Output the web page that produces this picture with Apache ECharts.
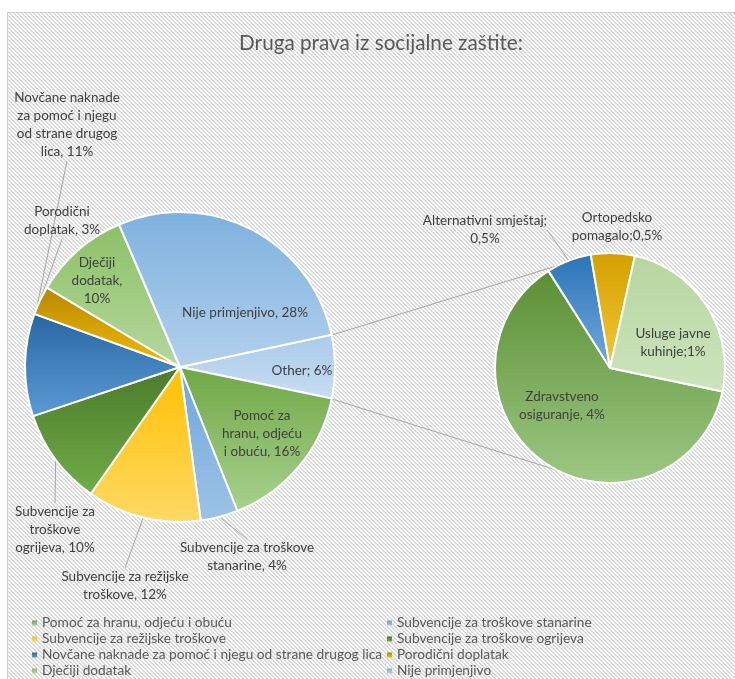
<!DOCTYPE html>
<html>
<head>
<meta charset="utf-8">
<script src="https://cdn.jsdelivr.net/npm/echarts@6/dist/echarts.min.js"></script>
<style>
  html, body { margin: 0; padding: 0; background: #fff; }
  #main { position: absolute; left: 0; top: 0; width: 735px; height: 679px; }
</style>
</head>
<body>
<div id="main"></div>
<script>
// glavni krug (pie of pie) - redoslijed u smjeru kazaljke od "Other"
var mainNames = ['Other', 'Pomoć za hranu, odjeću i obuću', 'Subvencije za troškove stanarine',
  'Subvencije za režijske troškove', 'Subvencije za troškove ogrijeva',
  'Novčane naknade za pomoć i njegu od strane drugog lica', 'Porodični doplatak',
  'Dječiji dodatak', 'Nije primjenjivo'];
var mainValues = [6.6, 15.7, 3.9, 11.9, 10.1, 10.7, 3.0, 10.0, 28.1];
var mainLabels = ['Other; 6%', 'Pomoć za\nhranu, odjeću\ni obuću, 16%', 'Subvencije za troškove\nstanarine, 4%',
  'Subvencije za režijske\ntroškove, 12%', 'Subvencije za\ntroškove\nogrijeva, 10%',
  'Novčane naknade\nza pomoć i njegu\nod strane drugog\nlica, 11%', 'Porodični\ndoplatak, 3%',
  'Dječiji\ndodatak,\n10%', 'Nije primjenjivo, 28%'];

// drugi krug (razlaganje "Other")
var subNames = ['Zdravstveno osiguranje', 'Alternativni smještaj', 'Ortopedsko pomagalo', 'Usluge javne kuhinje'];
var subValues = [3.77, 0.38, 0.37, 1.49];
var subLabels = ['Zdravstveno\nosiguranje, 4%', 'Alternativni smještaj;\n0,5%', 'Ortopedsko\npomagalo;0,5%', 'Usluge javne\nkuhinje;1%'];

var legendLeft = ['Pomoć za hranu, odjeću i obuću', 'Subvencije za režijske troškove',
  'Novčane naknade za pomoć i njegu od strane drugog lica', 'Dječiji dodatak'];
var legendRight = ['Subvencije za troškove stanarine', 'Subvencije za troškove ogrijeva',
  'Porodični doplatak', 'Nije primjenjivo'];

// šrafura pozadine
var hatch = document.createElement('canvas');
hatch.width = 4; hatch.height = 4;
(function () {
  var ctx = hatch.getContext('2d');
  ctx.fillStyle = '#fdfdfd';
  ctx.fillRect(0, 0, 4, 4);
  ctx.fillStyle = '#dadada';
  for (var y = 0; y < 4; y++) {
    for (var x = 0; x < 4; x++) {
      var k = ((x - y) % 4 + 4) % 4;
      if (k < 2) ctx.fillRect(x, y, 1, 1);
    }
  }
})();

function grad(a, b) {
  return { type: 'linear', x: 0, y: 0, x2: 0, y2: 1, colorStops: [{ offset: 0, color: a }, { offset: 1, color: b }] };
}
var mainColors = [
  grad('#a9cbea', '#c9ddf1'), grad('#6fa845', '#a9d18e'), grad('#6ea6dc', '#9dc3e6'),
  grad('#ffc000', '#ffd966'), grad('#4b7a2c', '#70ad47'), grad('#2866a0', '#5b9bd5'),
  grad('#b88800', '#f2bb0a'), grad('#8cc066', '#b6d89e'), grad('#7eb1de', '#b2d0ec')
];
var subColors = [grad('#5a8f34', '#9dc884'), grad('#2a74b8', '#74aadd'), grad('#d3a000', '#f5c735'), grad('#b6d69f', '#cde4bd')];

var mainInside = [true, true, false, false, false, false, false, true, true];
var subInside = [true, false, false, true];
var subLine = [false, true, false, false];

// položaj etiketa (centar teksta)
var mainLabelPos = [[302, 371], [262, 434], [247, 557], [125, 586], [55, 530], [67, 125], [62, 221], [97, 281], [245, 313]];
var subLabelPos = [[562, 406], [485, 230], [617, 227], [673, 343]];

var c1 = [180, 367], r1 = 155, c2 = [610, 368], r2 = 115;

var mainData = mainNames.map(function (n, i) {
  return {
    name: n, value: mainValues[i],
    itemStyle: { color: mainColors[i] },
    label: { position: mainInside[i] ? 'inside' : 'outside' },
    labelLine: { show: !mainInside[i] }
  };
});
var subData = subNames.map(function (n, i) {
  return {
    name: n, value: subValues[i],
    itemStyle: { color: subColors[i] },
    label: { position: subInside[i] ? 'inside' : 'outside' },
    labelLine: { show: subLine[i] }
  };
});

// spojnice između krugova
var half = mainValues[0] / mainValues.reduce(function (a, b) { return a + b; }, 0) * Math.PI;
var a2 = 117 * Math.PI / 180;
var p1 = [c1[0] + r1 * Math.cos(half), c1[1] - r1 * Math.sin(half)];
var p2 = [c1[0] + r1 * Math.cos(half), c1[1] + r1 * Math.sin(half)];
var q1 = [c2[0] + r2 * Math.cos(a2), c2[1] - r2 * Math.sin(a2)];
var q2 = [c2[0] + r2 * Math.cos(a2), c2[1] + r2 * Math.sin(a2)];

var font = 'Lato';
var labelStyle = { color: '#404040', fontSize: 13.5, lineHeight: 18, fontFamily: font, align: 'center' };
var legendText = { color: '#595959', fontSize: 13.7, fontFamily: font, lineHeight: 14 };

var myChart = echarts.init(document.getElementById('main'));
var option = {
  backgroundColor: '#ffffff',
  title: {
    text: 'Druga prava iz socijalne zaštite:',
    left: 376, top: 28, textAlign: 'center',
    textStyle: { color: '#595959', fontSize: 20.7, fontWeight: 'normal', fontFamily: font }
  },
  legend: [
    {
      data: legendLeft, orient: 'vertical', left: 27, top: 611, itemGap: 2, height: 70,
      icon: 'rect', itemWidth: 5, itemHeight: 5, itemStyle: { borderWidth: 0 },
      textStyle: legendText
    },
    {
      data: legendRight, orient: 'vertical', left: 382, top: 611, itemGap: 2, height: 70,
      icon: 'rect', itemWidth: 5, itemHeight: 5, itemStyle: { borderWidth: 0 },
      textStyle: legendText
    }
  ],
  graphic: [
    {
      type: 'rect', z: -10, silent: true,
      shape: { x: 7.5, y: 12.5, width: 740, height: 680 },
      style: { fill: { image: hatch, repeat: 'repeat' }, stroke: '#d0d0d0', lineWidth: 1 }
    },
    { type: 'line', shape: { x1: p1[0], y1: p1[1], x2: q1[0], y2: q1[1] }, style: { stroke: '#a6a6a6', lineWidth: 1 }, z: 1 },
    { type: 'line', shape: { x1: p2[0], y1: p2[1], x2: q2[0], y2: q2[1] }, style: { stroke: '#a6a6a6', lineWidth: 1 }, z: 1 }
  ],
  series: [
    {
      type: 'pie', center: c1, radius: r1, startAngle: 12, clockwise: true,
      avoidLabelOverlap: false, animation: false,
      itemStyle: { borderColor: '#fff', borderWidth: 2 },
      label: Object.assign({ formatter: function (p) { return mainLabels[p.dataIndex]; } }, labelStyle),
      labelLine: { length: 10, length2: 0, lineStyle: { color: '#a6a6a6', width: 1 } },
      labelLayout: function (p) {
        var pos = mainLabelPos[p.dataIndex];
        return { x: pos[0], y: pos[1], align: 'center', verticalAlign: 'middle' };
      },
      emphasis: { disabled: true },
      data: mainData
    },
    {
      type: 'pie', center: c2, radius: r2, startAngle: -11.8, clockwise: true,
      avoidLabelOverlap: false, animation: false,
      itemStyle: { borderColor: '#fff', borderWidth: 2 },
      label: Object.assign({ formatter: function (p) { return subLabels[p.dataIndex]; } }, labelStyle),
      labelLine: { length: 10, length2: 0, lineStyle: { color: '#a6a6a6', width: 1 } },
      labelLayout: function (p) {
        var pos = subLabelPos[p.dataIndex];
        return { x: pos[0], y: pos[1], align: 'center', verticalAlign: 'middle' };
      },
      emphasis: { disabled: true },
      data: subData
    }
  ]
};
myChart.setOption(option);
</script>
</body>
</html>
